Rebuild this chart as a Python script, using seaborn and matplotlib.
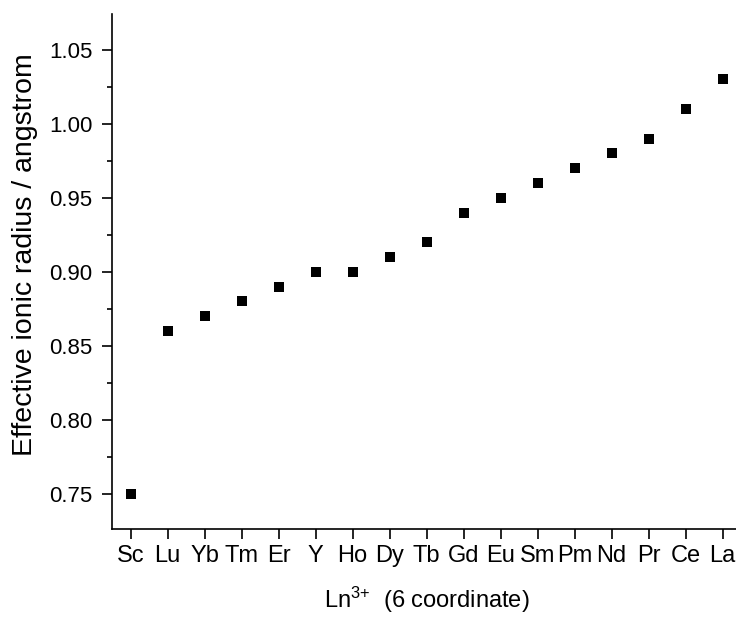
import numpy as np
import pandas as pd
import seaborn as sns
import matplotlib.pyplot as plt
from matplotlib.ticker import MultipleLocator

ions = ['Sc', 'Lu', 'Yb', 'Tm', 'Er', 'Y', 'Ho', 'Dy', 'Tb', 'Gd', 'Eu',
        'Sm', 'Pm', 'Nd', 'Pr', 'Ce', 'La']
radius = [0.75, 0.86, 0.87, 0.88, 0.89, 0.90, 0.90, 0.91, 0.92, 0.94, 0.95,
          0.96, 0.97, 0.98, 0.99, 1.01, 1.03]

df = pd.DataFrame({'ion': ions, 'radius': radius})

sns.set_style('ticks')
plt.rcParams['font.family'] = ['Liberation Sans', 'DejaVu Sans']
plt.rcParams['mathtext.fontset'] = 'custom'
plt.rcParams['mathtext.rm'] = 'Liberation Sans'
plt.rcParams['text.color'] = 'black'
plt.rcParams['axes.labelcolor'] = 'black'

fig = plt.figure(figsize=(7.36, 6.17), dpi=100)
ax = fig.add_axes([112/736, 88/617, 629/736, 515/617])

sns.scatterplot(data=df, x='ion', y='radius', marker='s', color='black',
                s=44, edgecolor='black', linewidth=0, ax=ax)

ax.set_xlim(-0.5, 16.5)
ax.set_ylim(0.7262, 1.0742)
ax.yaxis.set_major_locator(MultipleLocator(0.05))
ax.yaxis.set_minor_locator(MultipleLocator(0.025))
ax.yaxis.set_major_formatter(plt.FormatStrFormatter('%.2f'))

for s in ['top', 'right']:
    ax.spines[s].set_visible(False)
for s in ['left', 'bottom']:
    ax.spines[s].set_linewidth(1.2)
    ax.spines[s].set_color('black')

ax.tick_params(axis='both', which='major', length=7.2, width=1.2,
               direction='out', colors='black', labelcolor='black')
ax.tick_params(axis='y', which='major', labelsize=16, pad=7)
ax.tick_params(axis='y', which='minor', length=3.6, width=1.2, direction='out',
               colors='black')
ax.tick_params(axis='x', labelsize=17, pad=4)

ax.set_xlabel('$\\mathregular{Ln^{3{+}}}$  (6 coordinate)', fontsize=17,
              labelpad=13, color='black')
ax.set_ylabel('Effective ionic radius / angstrom', fontsize=20.5, labelpad=8,
              color='black')
ax.yaxis.label.set_y(0.532)

fig.savefig('out.png', dpi=100)
